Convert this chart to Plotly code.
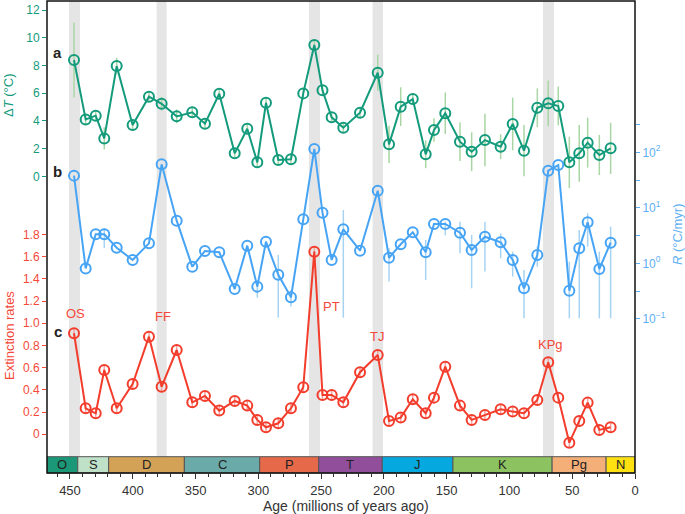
import plotly.graph_objects as go

# ---------------- data ----------------
ages = [446.8, 437.5, 429.5, 422.7, 412.8, 400.1, 387.1, 377.0, 365.0, 352.6,
        342.5, 331.1, 318.8, 308.8, 300.8, 293.9, 284.1, 274.0, 264.2, 255.4,
        248.9, 241.6, 232.3, 219.0, 204.9, 195.9, 186.6, 177.0, 166.7, 160.1,
        151.1, 139.4, 130.1, 119.5, 107.0, 97.4, 88.4, 77.8, 69.1, 61.1,
        52.3, 44.4, 37.7, 28.4, 19.4]

delta_T = [8.40, 4.11, 4.38, 2.74, 7.96, 3.70, 5.75, 5.24, 4.33, 4.62,
           3.80, 5.96, 1.66, 3.44, 1.01, 5.31, 1.18, 1.23, 5.99, 9.48,
           6.21, 4.26, 3.51, 4.59, 7.48, 2.31, 5.03, 5.58, 1.59, 3.34,
           4.55, 2.50, 1.78, 2.62, 2.14, 3.78, 1.85, 4.95, 5.27, 5.08,
           1.01, 1.66, 2.43, 1.54, 2.02]
delta_T_err = [2.7, 0.4, 0.3, 0.8, 0.6, 0.4, 0.3, 0.5, 0.5, 0.4,
               0.3, 0.3, 0.3, 0.3, 0.3, 0.3, 0.3, 0.3, 0.3, 0.3,
               0.4, 0.3, 0.3, 0.3, 1.3, 1.35, 1.4, 0.4, 1.0, 0.85,
               1.5, 1.4, 1.4, 1.9, 0.9, 1.9, 1.85, 1.4, 1.65, 1.4,
               1.85, 2.05, 1.8, 1.45, 1.85]

R_rate = [38.0, 0.81, 3.33, 3.33, 1.91, 1.15, 2.29, 60.8, 5.86, 0.87,
          1.67, 1.58, 0.344, 2.08, 0.38, 2.45, 0.62, 0.244, 6.21, 115.0,
          8.17, 1.15, 4.10, 1.69, 20.3, 1.26, 2.20, 3.62, 1.58, 5.11,
          5.11, 3.56, 1.74, 3.01, 2.39, 1.15, 0.355, 1.41, 46.6, 58.9,
          0.32, 1.86, 5.48, 0.79, 2.35]
R_low = [None, None, None, 1.89, None, None, None, None, None, None,
         None, None, None, None, 0.24, None, 0.105, 0.166, None, None,
         None, None, 0.105, None, None, 0.47, None, None, 0.50, None,
         3.2, 1.51, 0.355, 0.71, 1.23, 0.575, 0.102, 0.87, None, None,
         0.102, 0.102, 2.0, 0.102, 0.102]
R_high = [None, None, None, 4.32, None, None, None, None, None, None,
          None, None, None, None, 0.50, None, 1.41, 0.33, None, None,
          None, None, 9.1, None, None, 1.86, None, None, 2.63, None,
          5.6, 5.6, 3.24, 5.6, 3.47, 1.62, 0.76, 2.0, None, None,
          1.07, 3.98, 7.94, 1.62, 4.57]

ext_rate = [0.91, 0.234, 0.189, 0.579, 0.234, 0.453, 0.879, 0.429, 0.759, 0.288,
            0.345, 0.213, 0.30, 0.258, 0.129, 0.063, 0.099, 0.234, 0.423, 1.645,
            0.354, 0.354, 0.288, 0.559, 0.714, 0.12, 0.15, 0.315, 0.189, 0.33,
            0.609, 0.258, 0.129, 0.174, 0.225, 0.204, 0.189, 0.309, 0.649, 0.33,
            -0.076, 0.12, 0.285, 0.039, 0.063]
ext_err = [0.04] * len(ages)

period_names = ['O', 'S', 'D', 'C', 'P', 'T', 'J', 'K', 'Pg', 'N']
period_start = [485.4, 443.8, 419.2, 358.9, 298.9, 251.9, 201.3, 145.0, 66.0, 23.0]
period_end = [443.8, 419.2, 358.9, 298.9, 251.9, 201.3, 145.0, 66.0, 23.0, 0.0]
period_colors = ['#1a9878', '#bfe1c8', '#d3a257', '#6aaaa8', '#e6694a',
                 '#914f9b', '#05a9e0', '#8cc25f', '#f4ae78', '#ffe112']

event_names = ['OS', 'FF', 'PT', 'TJ', 'KPg']
event_start = [450.8, 381.0, 259.7, 209.0, 73.3]
event_end = [442.0, 373.0, 250.9, 200.7, 64.5]
event_label_age = [446.0, 376.0, 241.6, 205.7, 67.5]
event_label_val = [1.084, 1.06, 1.15, 0.88, 0.81]

dT_ticks = [0, 2, 4, 6, 8, 10, 12]
ext_ticks = [0, 0.2, 0.4, 0.6, 0.8, 1.0, 1.2, 1.4, 1.6, 1.8]
ext_ticktext = ['0', '0.2', '0.4', '0.6', '0.8', '1.0', '1.2', '1.4', '1.6', '1.8']
R_ticks = [0.1, 0.3162, 1, 3.162, 10, 31.62, 100, 316.2]
R_ticktext = ['10<sup>−1</sup>', ' ', '10<sup>0</sup>', ' ', '10<sup>1</sup>', ' ', '10<sup>2</sup>', ' ']
age_ticks = [0, 50, 100, 150, 200, 250, 300, 350, 400, 450]

# ---------------- styling ----------------
W, H = 685, 514
ML, MR, MT, MB = 47, 50, 1, 41
PW, PH = W - ML - MR, H - MT - MB
X_MAX = 468.3
TS_TOP = 16.3 / PH  # timescale bar height in paper units

TEAL = '#139b7c'
TEAL_L = '#a9d6a4'
BLUE = '#47a4f5'
BLUE_L = '#a6d3f2'
BLUE_AX = '#5fb0f3'
RED = '#f33d2c'
RED_L = '#f5a3a0'
RED_AX = '#f5483a'
FONT = 'Liberation Sans, Arial, sans-serif'


def px(x):
    return (x - ML) / PW


def py(y):
    return (H - MB - y) / PH


fig = go.Figure()

# error bars (drawn under the lines)
fig.add_trace(go.Scatter(
    x=ages, y=delta_T, mode='markers', marker=dict(size=1, opacity=0),
    error_y=dict(type='data', array=delta_T_err, color=TEAL_L, thickness=1.5, width=0),
    yaxis='y', hoverinfo='skip', showlegend=False))
fig.add_trace(go.Scatter(
    x=ages, y=delta_T, mode='lines+markers',
    line=dict(color=TEAL, width=2),
    marker=dict(symbol='circle-open', size=10, color=TEAL, line=dict(width=2, color=TEAL)),
    yaxis='y', showlegend=False))

R_plus = [(h - r) if h is not None else 0 for h, r in zip(R_high, R_rate)]
R_minus = [(r - l) if l is not None else 0 for l, r in zip(R_low, R_rate)]
fig.add_trace(go.Scatter(
    x=ages, y=R_rate, mode='markers', marker=dict(size=1, opacity=0),
    error_y=dict(type='data', symmetric=False, array=R_plus, arrayminus=R_minus,
                 color=BLUE_L, thickness=1.5, width=0),
    yaxis='y2', hoverinfo='skip', showlegend=False))
fig.add_trace(go.Scatter(
    x=ages, y=R_rate, mode='lines+markers',
    line=dict(color=BLUE, width=2),
    marker=dict(symbol='circle-open', size=10, color=BLUE, line=dict(width=2, color=BLUE)),
    yaxis='y2', showlegend=False))

fig.add_trace(go.Scatter(
    x=ages, y=ext_rate, mode='markers', marker=dict(size=1, opacity=0),
    error_y=dict(type='data', array=ext_err, color=RED_L, thickness=1.5, width=0),
    yaxis='y3', hoverinfo='skip', showlegend=False))
fig.add_trace(go.Scatter(
    x=ages, y=ext_rate, mode='lines+markers',
    line=dict(color=RED, width=2),
    marker=dict(symbol='circle-open', size=10, color=RED, line=dict(width=2, color=RED)),
    yaxis='y3', showlegend=False))

shapes = []
# extinction event bands
for s, e in zip(event_start, event_end):
    shapes.append(dict(type='rect', xref='x', yref='paper', x0=s, x1=e, y0=TS_TOP, y1=1,
                       fillcolor='#e5e5e5', line=dict(width=0), layer='below'))
# geological timescale
annotations = []
for name, s, e, c in zip(period_names, period_start, period_end, period_colors):
    s_vis = min(s, X_MAX)
    shapes.append(dict(type='rect', xref='x', yref='paper', x0=s_vis, x1=e, y0=0, y1=TS_TOP,
                       fillcolor=c, line=dict(width=1, color='#555555'), layer='above'))
    annotations.append(dict(x=(s_vis + e) / 2, y=TS_TOP / 2, xref='x', yref='paper',
                            text=name, showarrow=False, xanchor='center', yanchor='middle',
                            font=dict(size=13, color='#222222', family=FONT)))
# frame
shapes.append(dict(type='rect', xref='paper', yref='paper', x0=0, x1=1, y0=0, y1=1,
                   line=dict(width=1.5, color='#111111'), layer='above'))

# event labels
for name, a, v in zip(event_names, event_label_age, event_label_val):
    annotations.append(dict(x=a, y=v, xref='x', yref='y3', text=name, showarrow=False,
                            xanchor='center', yanchor='middle',
                            font=dict(size=13, color=RED_AX, family=FONT)))

# panel letters
for letter, yy in zip(['a', 'b', 'c'], [52.7, 171.7, 331.7]):
    annotations.append(dict(x=px(57.7), y=py(yy), xref='paper', yref='paper',
                            text='<b>%s</b>' % letter, showarrow=False,
                            xanchor='center', yanchor='middle',
                            font=dict(size=15, color='#222222', family=FONT)))

# axis titles
annotations.append(dict(x=px(8), y=py(95), xref='paper', yref='paper', text='Δ<i>T</i> (°C)',
                        textangle=-90, showarrow=False, xanchor='center', yanchor='middle',
                        font=dict(size=13, color=TEAL, family=FONT)))
annotations.append(dict(x=px(9), y=py(336), xref='paper', yref='paper', text='Extinction rates',
                        textangle=-90, showarrow=False, xanchor='center', yanchor='middle',
                        font=dict(size=13, color=RED_AX, family=FONT)))
annotations.append(dict(x=px(677), y=py(234), xref='paper', yref='paper', text='<i>R</i> (°C/myr)',
                        textangle=-90, showarrow=False, xanchor='center', yanchor='middle',
                        font=dict(size=13, color=BLUE_AX, family=FONT)))
annotations.append(dict(x=px(346), y=py(506), xref='paper', yref='paper',
                        text='Age (millions of years ago)', showarrow=False,
                        xanchor='center', yanchor='middle',
                        font=dict(size=14, color='#333333', family=FONT)))

fig.update_layout(
    width=W, height=H,
    margin=dict(l=ML, r=MR, t=MT, b=MB, pad=0),
    paper_bgcolor='white', plot_bgcolor='white',
    font=dict(family=FONT),
    shapes=shapes, annotations=annotations,
    xaxis=dict(range=[X_MAX, 0], autorange=False, tickmode='array', tickvals=age_ticks,
               ticks='outside', ticklen=5, tickwidth=1, tickcolor='#333333',
               minor=dict(dtick=10, tick0=0, ticks='outside', ticklen=3, tickcolor='#333333'),
               showgrid=False, zeroline=False, showline=False,
               tickfont=dict(size=13, color='#333333')),
    yaxis=dict(range=[-21.42, 12.66], autorange=False, tickmode='array', tickvals=dT_ticks,
               ticks='outside', ticklen=4, tickcolor=TEAL, showgrid=False, zeroline=False,
               showline=False, tickfont=dict(size=12, color=TEAL)),
    yaxis2=dict(type='log', range=[-3.778, 4.726], autorange=False, overlaying='y', side='right',
                tickmode='array', tickvals=R_ticks, ticktext=R_ticktext,
                ticks='outside', ticklen=4, tickcolor=BLUE_AX, showgrid=False, zeroline=False,
                showline=False, tickfont=dict(size=12, color=BLUE_AX)),
    yaxis3=dict(range=[-0.349, 3.903], autorange=False, overlaying='y', side='left',
                tickmode='array', tickvals=ext_ticks, ticktext=ext_ticktext,
                ticks='outside', ticklen=4, tickcolor=RED_AX, showgrid=False, zeroline=False,
                showline=False, tickfont=dict(size=12, color=RED_AX)),
)

fig.write_html('out.html', config={'displayModeBar': False},
               post_script="document.body.style.margin='0px';document.body.style.overflow='hidden';")
